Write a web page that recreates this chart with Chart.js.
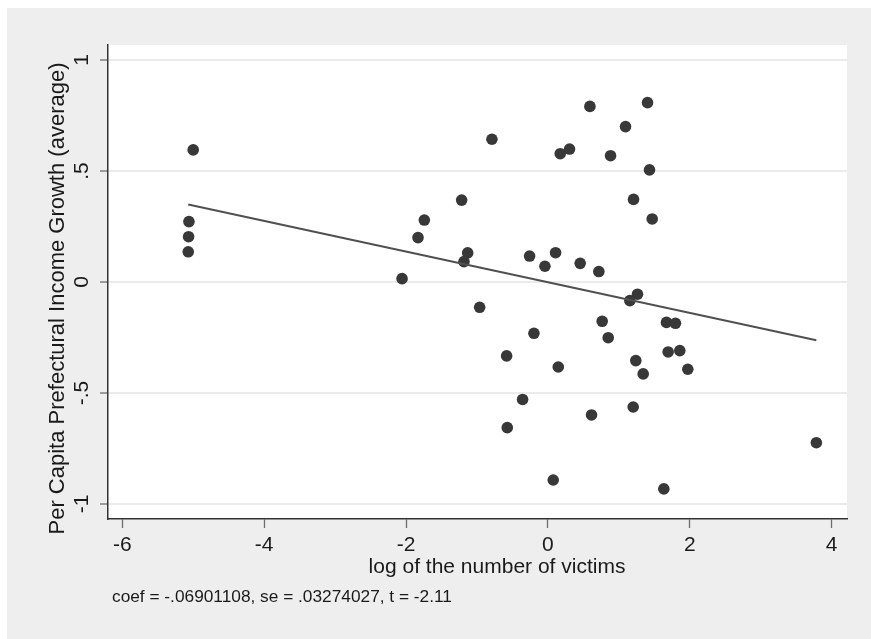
<!DOCTYPE html>
<html>
<head>
<meta charset="utf-8">
<script src="https://cdn.jsdelivr.net/npm/chart.js@4.4.1/dist/chart.umd.min.js"></script>
<style>
  html, body { margin: 0; padding: 0; background: #fff; }
  canvas { display: block; }
</style>
</head>
<body>
<canvas id="chart" width="871" height="639"></canvas>
<script>
// scatter values
const logVictims = [
  -5.00, -5.06, -5.065, -5.07,
  -0.789, 0.592, 1.404, 1.094, 0.174, 0.305, 0.883, 1.432, 1.207, 1.470,
  -1.216, -1.742, -1.831, -1.131, -1.183, -2.056,
  -0.258, 0.108, -0.042, 0.455, 0.718,
  -0.962, 1.263, 1.155, 0.765, 1.671, 1.798,
  -0.197, 0.850, -0.582, 0.146, 1.239, 1.343, 1.695, 1.859, 1.972,
  -0.357, 0.615, 1.202, -0.573, 3.784, 0.075, 1.634
];
const incomeGrowth = [
  0.595, 0.272, 0.204, 0.136,
  0.643, 0.791, 0.808, 0.700, 0.578, 0.599, 0.569, 0.505, 0.372, 0.284,
  0.369, 0.279, 0.200, 0.131, 0.092, 0.015,
  0.117, 0.132, 0.071, 0.084, 0.047,
  -0.114, -0.055, -0.084, -0.177, -0.182, -0.186,
  -0.231, -0.251, -0.333, -0.383, -0.354, -0.414, -0.315, -0.309, -0.393,
  -0.529, -0.599, -0.563, -0.656, -0.724, -0.892, -0.932
];

const xTicks = [-6, -4, -2, 0, 2, 4];
const yTicks = [-1, -0.5, 0, 0.5, 1];
const yTickLabels = ['-1', '-.5', '0', '.5', '1'];

const fitCoef = -0.06901108;
const fitIntercept = -0.001;

const xTitle = 'log of the number of victims';
const yTitle = 'Per Capita Prefectural Income Growth (average)';
const noteText = 'coef = -.06901108, se = .03274027, t = -2.11';

const FONT = '"Liberation Sans", Arial, Helvetica, sans-serif';
const INK = '#1a1a1a';

const points = logVictims.map((x, i) => ({ x: x, y: incomeGrowth[i] }));
const xLo = Math.min(...logVictims);
const xHi = Math.max(...logVictims);
const fitLine = [xLo, xHi].map(x => ({ x: x, y: fitIntercept + fitCoef * x }));

// stata style backdrop + titles
const frame = {
  id: 'frame',
  beforeDraw(chart) {
    const { ctx, chartArea: a } = chart;
    ctx.save();
    ctx.fillStyle = '#ffffff';
    ctx.fillRect(0, 0, chart.width, chart.height);
    ctx.fillStyle = '#eeeeee';
    ctx.fillRect(7, 8, chart.width - 7, chart.height - 8);
    ctx.fillStyle = '#ffffff';
    ctx.fillRect(a.left, a.top, a.right - a.left, a.bottom - a.top);
    ctx.restore();
  },
  afterDraw(chart) {
    const ctx = chart.ctx;
    ctx.save();
    ctx.fillStyle = INK;
    ctx.font = '21px ' + FONT;
    ctx.textAlign = 'center';
    ctx.textBaseline = 'alphabetic';
    ctx.fillText(xTitle, 497, 573);

    ctx.save();
    ctx.translate(57.5, 298.5);
    ctx.rotate(-Math.PI / 2);
    ctx.font = '22px ' + FONT;
    ctx.textBaseline = 'middle';
    ctx.fillText(yTitle, 0, 0);
    ctx.restore();

    ctx.font = '17.3px ' + FONT;
    ctx.textAlign = 'left';
    ctx.fillText(noteText, 112, 602);
    ctx.restore();
  }
};

new Chart(document.getElementById('chart'), {
  type: 'scatter',
  data: {
    datasets: [
      {
        type: 'line',
        data: fitLine,
        borderColor: '#505050',
        borderWidth: 2,
        pointRadius: 0,
        fill: false,
        order: 0
      },
      {
        data: points,
        backgroundColor: '#383838',
        borderWidth: 0,
        pointRadius: 5.8,
        order: 1
      }
    ]
  },
  options: {
    responsive: false,
    animation: false,
    layout: { padding: { top: 45, right: 24, left: 0, bottom: 0 } },
    plugins: {
      legend: { display: false },
      tooltip: { enabled: false }
    },
    scales: {
      x: {
        type: 'linear',
        min: -6.201,
        max: 4.216,
        afterBuildTicks: s => { s.ticks = xTicks.map(v => ({ value: v })); },
        afterFit: s => { s.height = 120; },
        ticks: {
          color: INK,
          font: { family: FONT, size: 21 },
          padding: 5,
          maxRotation: 0
        },
        grid: {
          display: true,
          drawOnChartArea: false,
          drawTicks: true,
          tickLength: 9,
          tickColor: '#6e6e6e',
          tickWidth: 1.3
        },
        border: { display: true, color: '#333333', width: 1.5 }
      },
      y: {
        min: -1.0676,
        max: 1.0676,
        afterBuildTicks: s => { s.ticks = yTicks.map(v => ({ value: v })); },
        afterFit: s => { s.width = 108; },
        ticks: {
          color: INK,
          font: { family: FONT, size: 21 },
          minRotation: 90,
          maxRotation: 90,
          crossAlign: 'center',
          padding: 6,
          callback: v => yTickLabels[yTicks.indexOf(v)]
        },
        grid: {
          color: '#ebebeb',
          lineWidth: 2,
          drawTicks: true,
          tickLength: 8,
          tickColor: '#6e6e6e',
          tickWidth: 1.3
        },
        border: { display: true, color: '#333333', width: 1.5 }
      }
    }
  },
  plugins: [frame]
});
</script>
</body>
</html>
